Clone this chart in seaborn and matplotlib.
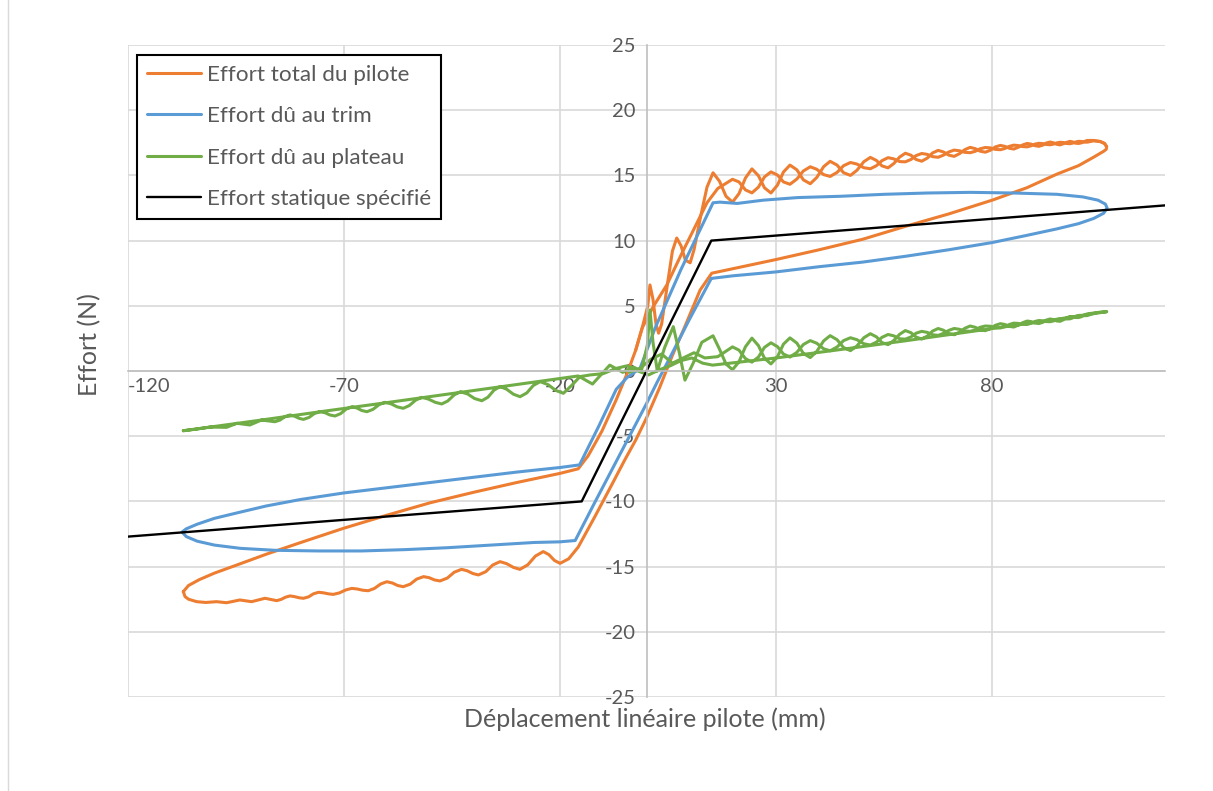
import numpy as np
import pandas as pd
import matplotlib
matplotlib.use("Agg")
import matplotlib.pyplot as plt
import seaborn as sns
from matplotlib.lines import Line2D

# ---- series names / colours ----
series_names = ["Effort total du pilote", "Effort dû au trim",
                "Effort dû au plateau", "Effort statique spécifié"]
series_colors = ["#ED7D31", "#5B9BD5", "#70AD47", "#000000"]

x_ticks = [-120, -70, -20, 30, 80]
y_ticks = [-25, -20, -15, -10, -5, 0, 5, 10, 15, 20, 25]

# ---- effort statique spécifié ----
static_x = [-120, -15, 15, 120]
static_y = [-12.7, -10, 10, 12.7]

# ---- effort dû au trim (one closed loop) ----
trim_x = [15.0, 20, 30, 40, 50, 60, 70, 80, 88, 95, 100, 103.5, 105.8, 106.6,
          106.2, 104.5, 101, 95, 85, 75, 65, 55, 45, 35, 27, 21, 17, 15.4,
          8, 2, -1.5, -4.5, -7, -11, -15.5,
          -20, -30, -40, -50, -60, -70, -80, -88, -95, -100, -104, -106.5, -107.5,
          -106.5, -104, -100, -94, -86, -76, -66, -56, -46, -36, -26, -20, -16.5,
          -12, -6, 0, 2.4, 6, 10, 15.0]
trim_y = [7.1, 7.3, 7.6, 8.0, 8.35, 8.8, 9.3, 9.85, 10.4, 10.9, 11.3, 11.7, 12.1, 12.5,
          12.8, 13.1, 13.35, 13.55, 13.65, 13.7, 13.65, 13.55, 13.4, 13.3, 13.1, 12.85, 12.95, 12.9,
          7.8, 3.3, 0.2, -0.5, -1.4, -4.2, -7.2,
          -7.4, -7.75, -8.15, -8.55, -8.95, -9.35, -9.85, -10.35, -10.9, -11.3, -11.75, -12.1, -12.35,
          -12.7, -13.05, -13.35, -13.6, -13.75, -13.8, -13.8, -13.7, -13.55, -13.35, -13.15, -13.1, -13.0,
          -10.1, -6.3, -2.5, -0.9, 1.4, 4.0, 7.1]

# x positions of the oscillating upper-right branch (shared by both passes)
braid_x = [15.4, 16.9, 18.4, 19.9, 21.4, 22.9, 24.4, 25.9, 27.3, 28.8, 30.3, 31.7, 33.2,
           34.8, 36.3, 37.9, 39.4, 41.0, 42.5, 44.1, 45.6, 47.2, 48.7, 50.3, 51.8, 53.2,
           54.5, 55.9, 57.2, 58.6, 59.9, 61.2, 62.4, 63.7, 65.0, 66.2, 67.5, 68.7, 70.0,
           71.2, 72.4, 73.7, 74.9, 76.1, 77.2, 78.4, 79.6, 80.7, 81.9, 82.9, 84.0, 85.0,
           86.0, 87.1, 88.1, 89.0, 89.9, 90.8, 91.7, 92.5, 93.4, 94.2, 94.9, 95.7, 96.5,
           97.2, 98.0, 98.7, 99.3, 100.0, 100.7, 101.3, 102.0]

# ---- effort total du pilote ----
total_ul_x = [-107.2, -106.0, -103.5, -100, -95, -88, -80, -70, -60, -50, -40, -30, -20, -15.8]
total_ul_y = [-16.92, -16.45, -16.0, -15.5, -14.9, -14.05, -13.15, -12.05, -11.05, -10.1, -9.3, -8.55, -7.85, -7.5]
total_a_x = [-13.5, -10.3, -7, -4.5, -2.5, -1.0]
total_a_y = [-6.5, -4.6, -2.2, -0.2, 1.6, 3.3]
total_c1_x = [0.3, 0.8, 1.5, 2.2, 2.8, 3.5, 5.0, 6.0, 7.0, 8.0, 9.0, 10.1, 11.0, 12.5, 14.0]
total_c1_y = [5.0, 6.6, 5.5, 3.6, 2.9, 3.6, 7.0, 9.2, 10.2, 9.6, 8.5, 8.3, 9.3, 11.8, 14.1]
total_b1_y = [15.2, 14.55, 13.4, 12.95, 13.6, 14.8, 15.5, 14.98, 14.05, 13.65, 14.25, 15.26, 15.79,
              15.43, 14.66, 14.36, 14.84, 15.67, 16.08, 15.79, 15.21, 15.0, 15.39, 16.05, 16.38,
              16.15, 15.73, 15.58, 15.9, 16.41, 16.7, 16.55, 16.22, 16.09, 16.33, 16.72, 16.92,
              16.8, 16.55, 16.46, 16.66, 16.98, 17.15, 17.05, 16.86, 16.78, 16.93, 17.18, 17.3,
              17.23, 17.08, 17.02, 17.15, 17.34, 17.45, 17.4, 17.28, 17.23, 17.32, 17.48, 17.56,
              17.5, 17.39, 17.34, 17.43, 17.53, 17.61, 17.56, 17.47, 17.45, 17.5, 17.6, 17.68]
total_tip_x = [103.5, 105.0, 106.0, 106.5]
total_tip_y = [17.68, 17.6, 17.45, 17.2]
total_lr_x = [106.4, 105.8, 103.5, 100, 95, 88, 80, 70, 60, 50, 40, 30, 20, 15.1]
total_lr_y = [17.0, 16.85, 16.4, 15.75, 15.1, 14.05, 13.1, 12.05, 11.1, 10.1, 9.3, 8.55, 7.85, 7.5]
total_b_x = [12.4, 9, 6, 3, 0, -2.5, -5, -8, -12, -15.8, -18]
total_b_y = [6.2, 3.5, 1.2, -1.3, -3.6, -5.3, -6.8, -8.7, -11.2, -13.5, -14.4]
total_ll_x = [-20.0, -21.3, -22.6, -23.9, -25.7, -27.5, -29.3, -30.8, -32.4, -33.9, -35.6, -37.2,
              -38.9, -40.2, -41.5, -42.8, -44.5, -46.1, -47.8, -49.1, -50.3, -51.6, -53.2, -54.7,
              -56.3, -57.6, -58.8, -60.1, -61.5, -63.0, -64.4, -65.7, -66.9, -68.2, -69.6, -71.1,
              -72.5, -73.6, -74.8, -75.9, -77.1, -78.2, -79.4, -80.4, -81.5, -82.5, -83.5, -84.6,
              -85.6, -88.3, -91.4, -94.1, -97.2, -99.5, -102.0, -104.1, -106.0, -106.8, -107.2]
total_ll_y = [-14.75, -14.53, -14.08, -13.85, -14.19, -14.87, -15.21, -15.06, -14.77, -14.62, -14.88, -15.39,
              -15.64, -15.53, -15.32, -15.21, -15.43, -15.88, -16.1, -16.02, -15.85, -15.77, -15.96, -16.35,
              -16.54, -16.45, -16.26, -16.16, -16.33, -16.68, -16.85, -16.81, -16.72, -16.67, -16.79, -17.02,
              -17.13, -17.09, -17.01, -16.97, -17.09, -17.32, -17.43, -17.39, -17.3, -17.25, -17.34, -17.52,
              -17.61, -17.43, -17.69, -17.56, -17.77, -17.69, -17.75, -17.69, -17.5, -17.3, -16.92]
# second pass through the top branch
total_c2_x = [-2.5, -1.0, 1.5, 4.7, 8.0, 11.6, 14.0, 16.5]
total_c2_y = [1.6, 3.3, 4.9, 6.6, 8.9, 11.3, 12.9, 14.0]
total_b2_y = [14.7, 14.5, 13.89, 13.66, 14.1, 14.88, 15.27, 15.03, 14.5, 14.32, 14.72, 15.34,
              15.66, 15.47, 15.06, 14.92, 15.23, 15.74, 15.99, 15.87, 15.59, 15.51, 15.74, 16.13,
              16.36, 16.27, 16.06, 16.04, 16.22, 16.52, 16.68, 16.61, 16.44, 16.39, 16.55, 16.8,
              16.94, 16.89, 16.77, 16.74, 16.85, 17.04, 17.14, 17.11, 17.0, 16.97, 17.06, 17.23,
              17.32, 17.29, 17.21, 17.19, 17.27, 17.4, 17.46, 17.44, 17.37, 17.35, 17.4, 17.49,
              17.54, 17.52, 17.45, 17.43, 17.48, 17.56, 17.61, 17.6, 17.55, 17.55]
total_tip2_y = [17.65, 17.6, 17.45, 17.2]

# ---- effort dû au plateau ----
plat_ul_x = [-107.2, -90, -75, -60, -45, -30, -15.8]
plat_ul_y = [-4.58, -3.8, -3.1, -2.42, -1.73, -1.04, -0.38]
plat_a_x = [-12.5, -8.5, -5.5, -3, -1.2, 0.2, 0.8, 1.5, 2.5, 4.2, 6.2, 7.6, 8.9, 10.8, 12.8]
plat_a_y = [-1.0, 0.45, -0.1, 0.3, 0.0, 2.0, 4.68, 2.2, 0.0, 1.8, 3.4, 1.4, -0.7, 0.6, 2.2]
plat_b1_y = [2.7, 1.67, 0.54, 0.1, 0.7, 1.86, 2.52, 1.95, 0.98, 0.54, 1.09, 2.06, 2.54,
             2.14, 1.35, 1.03, 1.5, 2.31, 2.71, 2.4, 1.8, 1.56, 1.92, 2.55, 2.86, 2.62,
             2.18, 2.02, 2.33, 2.82, 3.1, 2.94, 2.6, 2.45, 2.68, 3.06, 3.26, 3.13, 2.87,
             2.78, 2.97, 3.28, 3.45, 3.35, 3.17, 3.09, 3.25, 3.5, 3.63, 3.57, 3.42, 3.37,
             3.51, 3.71, 3.83, 3.79, 3.68, 3.64, 3.73, 3.9, 3.99, 3.94, 3.84, 3.81, 3.93,
             4.07, 4.18, 4.16, 4.1, 4.1, 4.17, 4.29, 4.38]
plat_tip_x = [104.0, 106.5]
plat_tip_y = [4.47, 4.55]
plat_lr_x = [100, 90, 75, 60, 45, 30, 15.3]
plat_lr_y = [4.22, 3.72, 3.02, 2.32, 1.65, 1.0, 0.45]
plat_b_x = [13, 10.5, 8, 5.5, 3, 0.5, -2, -4.5, -7, -10, -13, -15.4]
plat_b_y = [0.6, 1.0, 0.8, 0.4, 0.1, -0.3, 0.0, 0.4, 0.2, -0.2, -0.3, -0.43]
plat_ll_x = [-17.3, -19.24, -21.0, -22.8, -24.6, -26.2, -27.7, -29.26, -30.8, -32.4, -33.9,
             -35.3, -36.7, -38.1, -39.8, -41.4, -43.1, -44.5, -46.0, -47.4, -48.9, -50.5,
             -52.0, -53.4, -54.9, -56.3, -57.7, -59.1, -60.5, -61.9, -63.3, -64.7, -65.9,
             -67.0, -68.2, -69.5, -70.8, -72.1, -73.3, -74.4, -75.6, -76.9, -78.1, -79.4,
             -80.4, -81.5, -82.5, -83.7, -84.8, -86.0, -89.1, -91.8, -94.8, -97.2, -101,
             -104, -107.2]
plat_ll_y = [-1.1, -1.71, -1.49, -1.04, -0.82, -1.11, -1.68, -1.97, -1.78, -1.39, -1.2,
             -1.47, -2.01, -2.28, -2.11, -1.76, -1.59, -1.83, -2.3, -2.53, -2.4, -2.15,
             -2.02, -2.23, -2.65, -2.86, -2.75, -2.52, -2.4, -2.58, -2.94, -3.12, -3.03,
             -2.84, -2.74, -2.92, -3.27, -3.45, -3.37, -3.2, -3.12, -3.27, -3.56, -3.71,
             -3.63, -3.46, -3.37, -3.5, -3.76, -3.89, -3.76, -4.14, -4.01, -4.32, -4.3,
             -4.45, -4.58]
plat_c2_x = [-4, -1.5, 1, 3.5, 6, 8.5, 11, 13.5, 16.5]
plat_c2_y = [-0.1, 0.2, 0.9, 1.3, 0.6, 1.0, 1.4, 1.0, 1.1]
plat_b2_y = [1.85, 1.6, 0.95, 0.68, 1.07, 1.81, 2.16, 1.87, 1.3, 1.07, 1.43, 2.03, 2.33,
             2.13, 1.7, 1.55, 1.84, 2.33, 2.55, 2.4, 2.09, 1.99, 2.21, 2.58, 2.8, 2.7,
             2.47, 2.44, 2.61, 2.9, 3.04, 2.96, 2.78, 2.73, 2.88, 3.12, 3.26, 3.2, 3.07,
             3.04, 3.15, 3.35, 3.45, 3.43, 3.32, 3.3, 3.4, 3.57, 3.67, 3.65, 3.58, 3.57,
             3.66, 3.8, 3.87, 3.85, 3.79, 3.78, 3.84, 3.94, 4.01, 4.02, 3.99, 4.0, 4.08,
             4.19, 4.26, 4.27, 4.24, 4.25]

cat = np.concatenate
traces = [
    (series_names[0], "t1",
     cat([total_ul_x, total_a_x, total_c1_x, braid_x, total_tip_x, total_lr_x, total_b_x, total_ll_x]),
     cat([total_ul_y, total_a_y, total_c1_y, total_b1_y, total_tip_y, total_lr_y, total_b_y, total_ll_y])),
    (series_names[0], "t2",
     cat([total_c2_x, braid_x[3:], total_tip_x]),
     cat([total_c2_y, total_b2_y, total_tip2_y])),
    (series_names[1], "r1", np.array(trim_x, float), np.array(trim_y, float)),
    (series_names[2], "p1",
     cat([plat_ul_x, plat_a_x, braid_x, plat_tip_x, plat_lr_x, plat_b_x, plat_ll_x]),
     cat([plat_ul_y, plat_a_y, plat_b1_y, plat_tip_y, plat_lr_y, plat_b_y, plat_ll_y])),
    (series_names[2], "p2",
     cat([plat_c2_x, braid_x[3:], plat_tip_x]),
     cat([plat_c2_y, plat_b2_y, plat_tip_y])),
    (series_names[3], "s1", np.array(static_x, float), np.array(static_y, float)),
]
df = pd.concat([pd.DataFrame({"x": tx, "y": ty, "serie": name, "trace": tid})
                for name, tid, tx, ty in traces], ignore_index=True)

sns.set_style("white")
plt.rcParams["font.family"] = ["Lato", "DejaVu Sans"]
plt.rcParams["axes.unicode_minus"] = False

fig = plt.figure(figsize=(12.13, 7.91), dpi=100)
ax = fig.add_axes([128 / 1213, 1 - 697 / 791, 1037 / 1213, 652 / 791])

widths = [2.2, 2.2, 2.2, 1.7]
for name, color, lw in zip(series_names, series_colors, widths):
    sns.lineplot(data=df[df["serie"] == name], x="x", y="y", units="trace",
                 estimator=None, sort=False, color=color, linewidth=lw,
                 solid_joinstyle="round", solid_capstyle="round", legend=False, ax=ax)

ax.set_xlim(-120, 120)
ax.set_ylim(-25, 25)
ax.set_xticks(x_ticks)
ax.set_yticks(y_ticks)
ax.set_xlabel("")
ax.set_ylabel("")
ax.spines["left"].set_position(("data", 0))
ax.spines["bottom"].set_position(("data", 0))
ax.spines["top"].set_visible(False)
ax.spines["right"].set_visible(False)
for s in ("left", "bottom"):
    ax.spines[s].set_color("#bfbfbf")
    ax.spines[s].set_linewidth(1.2)
ax.grid(True, color="#d9d9d9", linewidth=1.2)
ax.set_axisbelow(True)
ax.tick_params(axis="y", direction="out", length=5, width=1.2, color="#bfbfbf",
               labelcolor="#595959", labelsize=14.5, pad=3)
ax.tick_params(axis="x", length=0, labelcolor="#595959", labelsize=14.5, pad=5)
ax.get_xticklabels()[0].set_horizontalalignment("left")

handles = [Line2D([], [], color=c, lw=w) for c, w in zip(series_colors, widths)]
leg = ax.legend(handles, series_names, loc="upper left", bbox_to_anchor=(0.009, 0.985),
                borderaxespad=0, fontsize=16.2, frameon=True, fancybox=False,
                framealpha=1, edgecolor="black", handlelength=2.4, handletextpad=0.25,
                labelspacing=0.95, borderpad=0.45)
leg.get_frame().set_linewidth(1.5)
for t in leg.get_texts():
    t.set_color("#595959")

fig.text(90 / 1213, 1 - 345 / 791, "Effort (N)", rotation=90, ha="center", va="center",
         fontsize=18, color="#595959")
fig.text(645 / 1213, 1 - 719 / 791, "Déplacement linéaire pilote (mm)", ha="center",
         va="center", fontsize=18, color="#595959")
fig.add_artist(Line2D([7.5 / 1213, 7.5 / 1213], [0, 1], color="#d9d9d9", lw=1,
                      transform=fig.transFigure))

fig.savefig("out.png", dpi=100)
plt.close(fig)
